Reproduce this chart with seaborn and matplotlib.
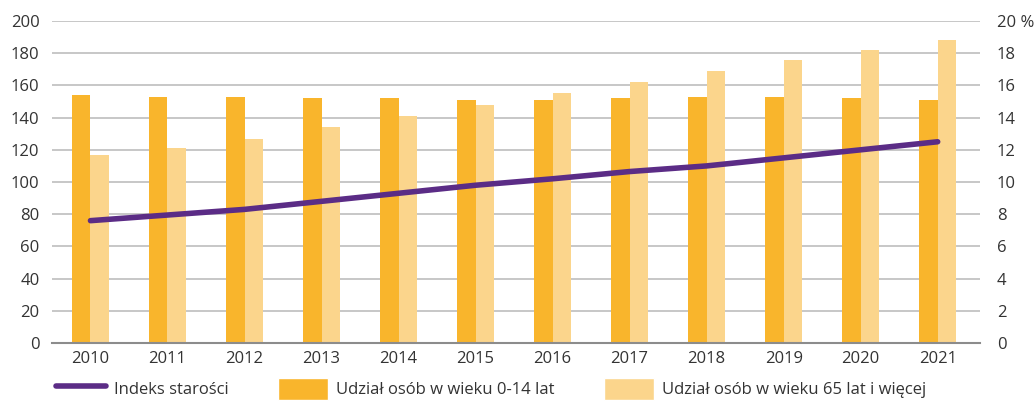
import matplotlib
matplotlib.use("Agg")
import matplotlib.pyplot as plt
import matplotlib.ticker as mticker
from matplotlib.lines import Line2D
from matplotlib.patches import Patch
import seaborn as sns
import pandas as pd

lata = [str(r) for r in range(2010, 2022)]
udzial_0_14 = [15.4, 15.3, 15.3, 15.2, 15.2, 15.1, 15.1, 15.2, 15.3, 15.3, 15.2, 15.1]
udzial_65 = [11.7, 12.1, 12.7, 13.4, 14.1, 14.8, 15.5, 16.2, 16.9, 17.6, 18.2, 18.8]
indeks = [76, 79.5, 83, 88, 93, 98, 102, 106.5, 110, 115, 120, 125]

lab_line = "Indeks starości"
lab_young = "Udział osób w wieku 0-14 lat"
lab_old = "Udział osób w wieku 65 lat i więcej"

c_young = "#F9B52C"
c_old = "#FBD58C"
c_line = "#5B2C86"
c_grid = "#BEBEBE"
c_text = "#333333"

sns.set_style("white")
plt.rcParams["font.family"] = ["Open Sans", "DejaVu Sans"]

df = pd.DataFrame({
    "rok": lata * 2,
    "udzial": udzial_0_14 + udzial_65,
    "grupa": [lab_young] * 12 + [lab_old] * 12,
})

fig = plt.figure(figsize=(10.35, 4.01), dpi=100)
ax = fig.add_axes([0.0502, 0.1446, 0.8967, 0.803])

# bars: percentages, right-hand scale
sns.barplot(data=df, x="rok", y="udzial", hue="grupa", palette=[c_young, c_old],
            width=0.48, saturation=1, linewidth=0, legend=False, ax=ax)
ax.set_ylim(0, 20)
ax.set_xlim(-0.5, 11.55)
ax.set_yticks(range(0, 21, 2))
ax.yaxis.set_major_formatter(mticker.FuncFormatter(lambda v, p: "20 %" if v == 20 else f"{v:.0f}"))
ax.grid(axis="y", color=c_grid, lw=1.2)
ax.set_axisbelow(True)
ax.set_xlabel("")
ax.set_ylabel("")
for s in ["top", "left", "right"]:
    ax.spines[s].set_visible(False)
ax.spines["bottom"].set_color("#8C8C8C")
ax.spines["bottom"].set_linewidth(1.5)

# line: ageing index, left-hand scale
ax2 = ax.twinx()
sns.lineplot(x=list(range(len(lata))), y=indeks, color=c_line, lw=4,
             solid_capstyle="round", ax=ax2)
ax2.set_ylim(0, 200)
ax2.set_yticks(range(0, 201, 20))
ax2.yaxis.tick_left()
ax.yaxis.tick_right()
ax2.tick_params(axis="y", length=0, pad=9, labelsize=12, labelcolor=c_text)
ax.tick_params(axis="y", length=0, pad=12, labelsize=12, labelcolor=c_text)
ax.tick_params(axis="x", length=0, pad=6, labelsize=12, labelcolor=c_text)
for s in ["top", "left", "right", "bottom"]:
    ax2.spines[s].set_visible(False)

handles = [
    Line2D([0], [0], color=c_line, lw=4, solid_capstyle="round"),
    Patch(facecolor=c_young),
    Patch(facecolor=c_old),
]
fig.legend(handles, [lab_line, lab_young, lab_old], loc="center left",
           bbox_to_anchor=(0.048, 0.03), ncol=3, frameon=False, fontsize=12,
           handlelength=3.0, handleheight=1.6, handletextpad=0.45,
           columnspacing=3.0, borderaxespad=0, labelcolor=c_text)

fig.savefig("out.png", dpi=100)
